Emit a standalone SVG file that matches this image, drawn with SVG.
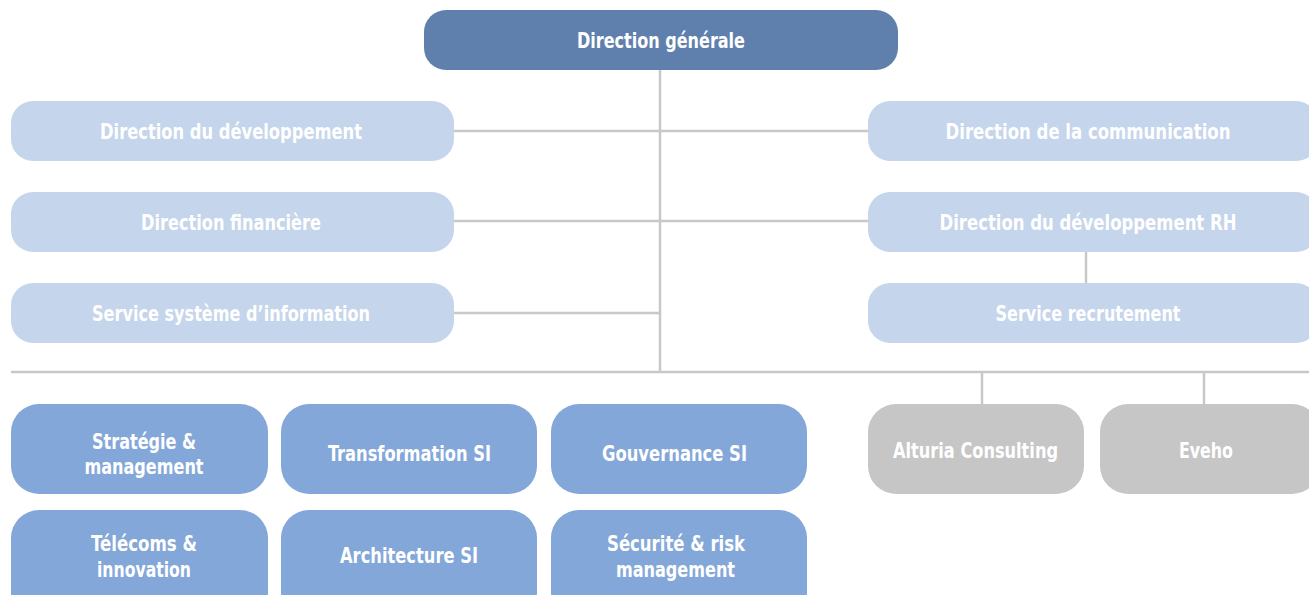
<svg xmlns="http://www.w3.org/2000/svg" width="1309" height="595" viewBox="0 0 1309 595">
<style>
text{font-family:"DejaVu Sans Condensed","Liberation Sans",sans-serif;font-weight:bold;font-size:21px;fill:#fff;text-anchor:middle}
.top{fill:#5f80ad}
.lt{fill:#c5d5eb}
.bl{fill:#84a7d9}
.gr{fill:#c6c6c6}
.c line{stroke:#c8c8c8;stroke-width:2.5}
</style>
<g class="c" id="connectors">
<line x1="660" y1="70" x2="660" y2="372"/>
<line x1="454" y1="131" x2="868" y2="131"/>
<line x1="454" y1="221" x2="868" y2="221"/>
<line x1="454" y1="313" x2="660" y2="313"/>
<line x1="1086" y1="252" x2="1086" y2="283"/>
<line x1="11" y1="372" x2="1309" y2="372"/>
<line x1="982" y1="372" x2="982" y2="404"/>
<line x1="1204" y1="372" x2="1204" y2="404"/>
</g>
<g id="dg"><rect class="top" x="424" y="10" width="474" height="60" rx="22"/><text x="661" y="48" textLength="168" lengthAdjust="spacingAndGlyphs">Direction générale</text></g>
<g id="ddev"><rect class="lt" x="11" y="101" width="443" height="60" rx="22"/><text x="231" y="139" textLength="262" lengthAdjust="spacingAndGlyphs">Direction du développement</text></g>
<g id="dfin"><rect class="lt" x="11" y="192" width="443" height="60" rx="22"/><text x="231" y="230" textLength="180" lengthAdjust="spacingAndGlyphs">Direction financière</text></g>
<g id="ssi"><rect class="lt" x="11" y="283" width="443" height="60" rx="22"/><text x="231" y="321" textLength="278" lengthAdjust="spacingAndGlyphs">Service système d’information</text></g>
<g id="dcom"><rect class="lt" x="868" y="101" width="450" height="60" rx="22"/><text x="1088" y="139" textLength="285" lengthAdjust="spacingAndGlyphs">Direction de la communication</text></g>
<g id="drh"><rect class="lt" x="868" y="192" width="450" height="60" rx="22"/><text x="1088" y="230" textLength="297" lengthAdjust="spacingAndGlyphs">Direction du développement RH</text></g>
<g id="srec"><rect class="lt" x="868" y="283" width="450" height="60" rx="22"/><text x="1088" y="321" textLength="185" lengthAdjust="spacingAndGlyphs">Service recrutement</text></g>
<g id="strat"><rect class="bl" x="11" y="404" width="257" height="90" rx="28"/><text x="144" y="449" textLength="104" lengthAdjust="spacingAndGlyphs">Stratégie &amp;</text><text x="144" y="474" textLength="119" lengthAdjust="spacingAndGlyphs">management</text></g>
<g id="trans"><rect class="bl" x="281" y="404" width="256" height="90" rx="28"/><text x="409.5" y="461" textLength="163" lengthAdjust="spacingAndGlyphs">Transformation SI</text></g>
<g id="gouv"><rect class="bl" x="551" y="404" width="256" height="90" rx="28"/><text x="674.5" y="461" textLength="145" lengthAdjust="spacingAndGlyphs">Gouvernance SI</text></g>
<g id="tele"><rect class="bl" x="11" y="510" width="257" height="110" rx="28"/><text x="144" y="551" textLength="106" lengthAdjust="spacingAndGlyphs">Télécoms &amp;</text><text x="144" y="577" textLength="94" lengthAdjust="spacingAndGlyphs">innovation</text></g>
<g id="arch"><rect class="bl" x="281" y="510" width="256" height="110" rx="28"/><text x="409" y="563" textLength="138" lengthAdjust="spacingAndGlyphs">Architecture SI</text></g>
<g id="secu"><rect class="bl" x="551" y="510" width="256" height="110" rx="28"/><text x="676" y="551" textLength="138" lengthAdjust="spacingAndGlyphs">Sécurité &amp; risk</text><text x="675.5" y="577" textLength="119" lengthAdjust="spacingAndGlyphs">management</text></g>
<g id="alturia"><rect class="gr" x="868" y="404" width="216" height="90" rx="28"/><text x="975.5" y="458" textLength="165" lengthAdjust="spacingAndGlyphs">Alturia Consulting</text></g>
<g id="eveho"><rect class="gr" x="1100" y="404" width="220" height="90" rx="28"/><text x="1206" y="458" textLength="54" lengthAdjust="spacingAndGlyphs">Eveho</text></g>
</svg>
